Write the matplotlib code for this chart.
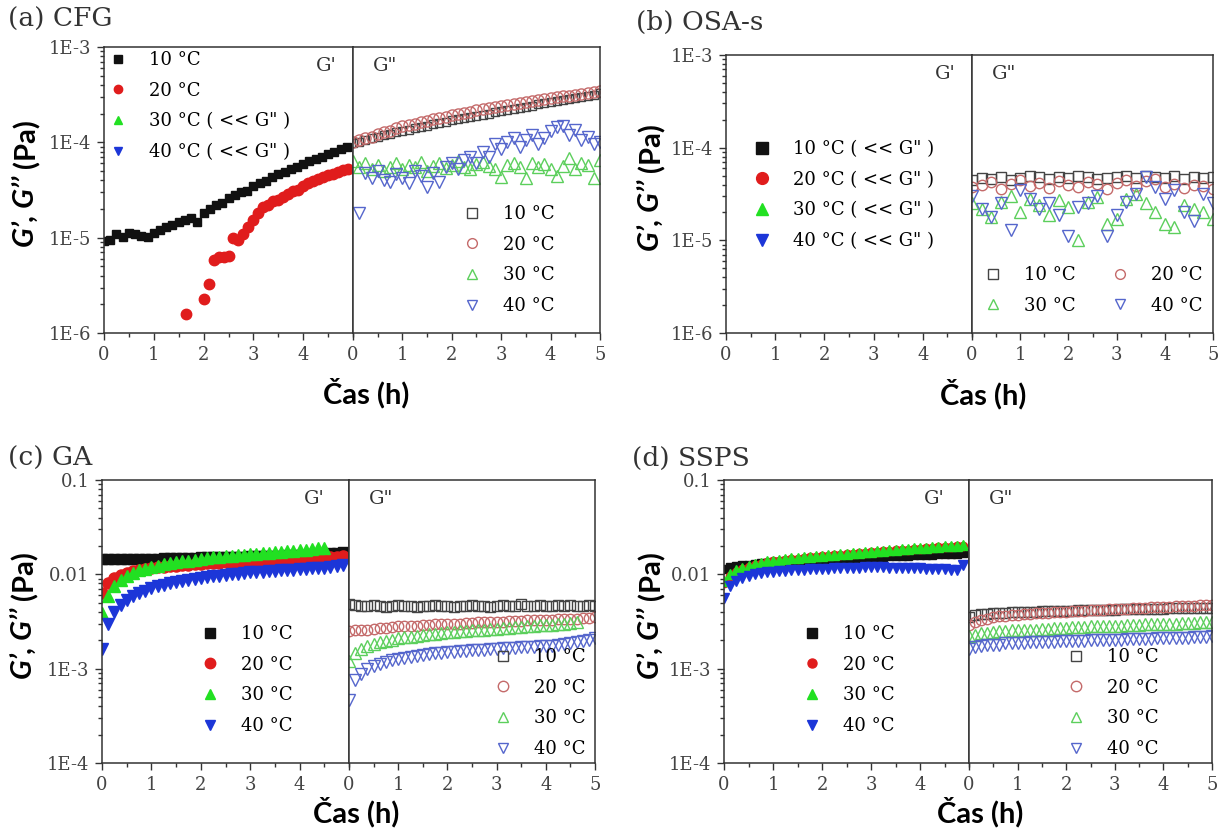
import matplotlib
matplotlib.use('Agg')
import matplotlib.pyplot as plt
from matplotlib.lines import Line2D
from matplotlib.ticker import FixedLocator, MultipleLocator, NullFormatter, LogLocator

W, H = 1226, 830

# time grids (h)
T41 = [0.0, 0.125, 0.25, 0.375, 0.5, 0.625, 0.75, 0.875, 1.0, 1.125, 1.25, 1.375, 1.5, 1.625,
       1.75, 1.875, 2.0, 2.125, 2.25, 2.375, 2.5, 2.625, 2.75, 2.875, 3.0, 3.125, 3.25, 3.375,
       3.5, 3.625, 3.75, 3.875, 4.0, 4.125, 4.25, 4.375, 4.5, 4.625, 4.75, 4.875, 5.0]
T26 = [0.0, 0.2, 0.4, 0.6, 0.8, 1.0, 1.2, 1.4, 1.6, 1.8, 2.0, 2.2, 2.4, 2.6, 2.8, 3.0, 3.2,
       3.4, 3.6, 3.8, 4.0, 4.2, 4.4, 4.6, 4.8, 5.0]
T_CFG20 = [1.65, 2.0, 2.1, 2.2, 2.3, 2.4, 2.5, 2.6, 2.7, 2.8, 2.9, 3.0, 3.1, 3.2, 3.3, 3.4, 3.5,
           3.6, 3.7, 3.8, 3.9, 4.0, 4.1, 4.2, 4.3, 4.4, 4.5, 4.6, 4.7, 4.8, 4.9]

# (a) CFG, values in 1e-5 Pa
cfg_g1_10 = [0.93, 0.95, 1.08, 1.02, 1.12, 1.1, 1.05, 1.02, 1.12, 1.2, 1.3, 1.35, 1.45, 1.55, 1.6,
             1.45, 1.8, 2.0, 2.2, 2.3, 2.6, 2.8, 3.0, 3.1, 3.5, 3.7, 3.9, 4.3, 4.6, 4.9, 5.2, 5.5,
             5.9, 6.3, 6.7, 7.1, 7.6, 8.0, 8.5, 9.0]
cfg_g1_20 = [0.16, 0.23, 0.33, 0.58, 0.62, 0.62, 0.65, 1.0, 0.95, 1.1, 1.3, 1.55, 1.8, 2.1, 2.2,
             2.4, 2.5, 2.7, 2.9, 3.1, 3.2, 3.5, 3.7, 3.9, 4.1, 4.3, 4.5, 4.7, 4.9, 5.1, 5.3]
cfg_g2_10 = [9.8, 10.2, 10.6, 11.0, 11.4, 11.8, 12.2, 12.7, 13.2, 13.6, 14.1, 14.6, 15.0, 15.5,
             16.0, 16.5, 17.0, 17.5, 18.0, 18.5, 19.0, 19.5, 20.0, 20.6, 21.2, 21.8, 22.4, 23.0,
             23.6, 24.3, 25.0, 25.6, 26.3, 27.0, 27.7, 28.5, 29.3, 30.0, 30.8, 31.7, 32.7]
cfg_g2_20 = [10.0, 10.5, 11.0, 11.5, 12.1, 12.7, 13.3, 14.0, 14.7, 15.2, 15.7, 16.2, 16.8, 17.4,
             18.0, 18.6, 19.2, 19.8, 20.4, 21.0, 21.6, 22.2, 22.8, 23.4, 24.1, 24.7, 25.3, 25.9,
             26.5, 27.1, 27.7, 28.3, 29.0, 29.6, 30.3, 30.9, 31.6, 32.3, 33.0, 33.7, 34.5]
cfg_g2_30 = [6.3, 5.5, 6.0, 5.2, 5.8, 5.0, 5.5, 6.0, 5.3, 5.8, 5.5, 6.2, 5.0, 5.6, 6.0, 5.4, 5.8,
             6.3, 5.5, 5.2, 5.9, 6.2, 5.6, 5.3, 4.3, 5.8, 6.0, 5.5, 4.2, 6.1, 5.5, 5.9, 5.3, 4.4,
             5.6, 6.8, 5.2, 6.0, 5.8, 4.2, 6.5]
cfg_g2_40 = [1.8, 4.8, 4.2, 5.0, 4.0, 3.8, 4.6, 4.2, 3.7, 5.0, 4.4, 3.4, 4.8, 3.8, 5.5, 6.0, 5.2,
             6.5, 7.0, 6.0, 8.0, 7.0, 9.5, 8.5, 10.0, 11.0, 9.0, 10.5, 12.0, 9.5, 11.0, 13.0, 14.5,
             15.0, 12.0, 13.5, 10.5, 11.5, 9.5, 10.0]

# (b) OSA-s, G'' only, values in 1e-5 Pa
osa_g2_10 = [4.5, 4.7, 4.6, 4.8, 4.5, 4.7, 4.9, 4.8, 4.6, 4.8, 4.7, 4.9, 4.8, 4.6, 4.7, 4.8, 4.9,
             4.7, 5.0, 4.8, 4.7, 4.9, 4.6, 4.8, 4.7, 4.8]
osa_g2_20 = [3.8, 4.0, 4.3, 3.6, 4.1, 4.5, 3.9, 4.2, 3.7, 4.4, 4.0, 3.8, 4.3, 4.1, 3.6, 4.2, 4.5,
             3.9, 4.4, 4.6, 3.8, 4.1, 3.7, 4.0, 3.9, 3.6]
osa_g2_30 = [2.5, 2.2, 1.8, 2.6, 3.0, 2.0, 2.8, 2.4, 1.9, 2.7, 2.3, 1.0, 2.6, 2.9, 1.5, 1.7, 2.8,
             3.2, 2.5, 2.0, 1.5, 1.4, 2.4, 2.2, 2.0, 1.7]
osa_g2_40 = [3.0, 2.2, 1.8, 2.5, 1.3, 3.5, 2.8, 2.2, 2.5, 1.9, 1.1, 2.3, 2.5, 3.0, 1.1, 1.9, 2.6,
             3.2, 4.8, 3.8, 2.8, 3.5, 2.0, 1.6, 3.2, 2.5]

# (c) GA, G' in 1e-2 Pa, G'' in 1e-3 Pa
ga_g1_10 = [1.45, 1.45, 1.45, 1.45, 1.45, 1.46, 1.46, 1.46, 1.47, 1.47, 1.48, 1.48, 1.49, 1.49,
            1.50, 1.50, 1.51, 1.51, 1.52, 1.52, 1.53, 1.53, 1.54, 1.54, 1.55, 1.55, 1.56, 1.57,
            1.57, 1.58, 1.59, 1.60, 1.61, 1.62, 1.63, 1.64, 1.65, 1.67, 1.69, 1.72]
ga_g1_20 = [0.64, 0.81, 0.92, 0.99, 1.04, 1.08, 1.11, 1.14, 1.17, 1.19, 1.21, 1.23, 1.24, 1.26,
            1.27, 1.28, 1.30, 1.31, 1.32, 1.33, 1.34, 1.35, 1.36, 1.37, 1.38, 1.39, 1.40, 1.41,
            1.42, 1.43, 1.44, 1.45, 1.46, 1.47, 1.48, 1.49, 1.50, 1.52, 1.54, 1.56]
ga_g1_30 = [0.39, 0.59, 0.75, 0.87, 0.97, 1.04, 1.10, 1.15, 1.20, 1.24, 1.28, 1.31, 1.34, 1.37,
            1.40, 1.43, 1.46, 1.48, 1.51, 1.53, 1.55, 1.58, 1.60, 1.62, 1.64, 1.66, 1.68, 1.70,
            1.72, 1.74, 1.76, 1.78, 1.80, 1.82, 1.85, 1.88, 1.92]
ga_g1_40 = [0.16, 0.30, 0.40, 0.47, 0.53, 0.59, 0.63, 0.67, 0.71, 0.75, 0.78, 0.81, 0.83, 0.86,
            0.88, 0.90, 0.92, 0.94, 0.96, 0.97, 0.99, 1.00, 1.02, 1.03, 1.05, 1.06, 1.07, 1.08,
            1.09, 1.10, 1.11, 1.12, 1.13, 1.14, 1.16, 1.17, 1.18, 1.20, 1.22, 1.25]
ga_g2_10 = [4.9, 4.7, 4.6, 4.6, 4.7, 4.6, 4.5, 4.6, 4.7, 4.6, 4.6, 4.5, 4.6, 4.6, 4.7, 4.6, 4.6,
            4.5, 4.6, 4.6, 4.7, 4.6, 4.6, 4.5, 4.6, 4.7, 4.6, 4.6, 4.8, 4.6, 4.6, 4.7, 4.6, 4.6,
            4.7, 4.6, 4.7, 4.6, 4.6, 4.7, 4.6]
ga_g2_20 = [2.5, 2.55, 2.6, 2.6, 2.65, 2.7, 2.7, 2.75, 2.8, 2.8, 2.85, 2.85, 2.9, 2.9, 2.95, 2.95,
            3.0, 3.0, 3.0, 3.05, 3.05, 3.1, 3.1, 3.1, 3.15, 3.15, 3.2, 3.2, 3.2, 3.25, 3.25, 3.3,
            3.3, 3.3, 3.35, 3.35, 3.4, 3.4, 3.45, 3.45, 3.5]
ga_g2_30 = [1.2, 1.45, 1.6, 1.72, 1.82, 1.9, 1.97, 2.03, 2.09, 2.14, 2.19, 2.23, 2.27, 2.31, 2.35,
            2.38, 2.42, 2.45, 2.48, 2.51, 2.54, 2.57, 2.6, 2.63, 2.66, 2.69, 2.72, 2.75, 2.78,
            2.81, 2.84, 2.87, 2.9, 2.93, 2.96, 3.0, 3.05, 3.1]
ga_g2_40 = [0.46, 0.75, 0.88, 0.98, 1.06, 1.12, 1.18, 1.23, 1.27, 1.31, 1.34, 1.37, 1.40, 1.43,
            1.45, 1.47, 1.49, 1.51, 1.53, 1.55, 1.56, 1.58, 1.59, 1.61, 1.62, 1.64, 1.65, 1.66,
            1.68, 1.69, 1.70, 1.72, 1.74, 1.76, 1.79, 1.83, 1.87, 1.92, 1.97, 2.03, 2.10]

# (d) SSPS, G' in 1e-2 Pa, G'' in 1e-3 Pa
ss_g1_10 = [1.15, 1.20, 1.23, 1.25, 1.27, 1.29, 1.31, 1.32, 1.34, 1.35, 1.37, 1.38, 1.39, 1.40,
            1.42, 1.43, 1.44, 1.45, 1.46, 1.47, 1.48, 1.49, 1.50, 1.51, 1.52, 1.53, 1.54, 1.55,
            1.56, 1.57, 1.58, 1.59, 1.60, 1.61, 1.62, 1.63, 1.64, 1.65, 1.66, 1.67]
ss_g1_20 = [0.80, 0.96, 1.07, 1.15, 1.21, 1.26, 1.30, 1.34, 1.37, 1.40, 1.43, 1.45, 1.47, 1.49,
            1.51, 1.53, 1.55, 1.57, 1.59, 1.61, 1.63, 1.65, 1.67, 1.69, 1.71, 1.73, 1.75, 1.77,
            1.79, 1.81, 1.83, 1.85, 1.87, 1.89, 1.91, 1.93, 1.95, 1.97, 1.99, 2.01]
ss_g1_30 = [0.85, 1.00, 1.10, 1.18, 1.24, 1.29, 1.33, 1.37, 1.40, 1.43, 1.46, 1.48, 1.50, 1.52,
            1.54, 1.56, 1.58, 1.60, 1.62, 1.64, 1.66, 1.68, 1.70, 1.72, 1.74, 1.76, 1.78, 1.80,
            1.82, 1.84, 1.86, 1.88, 1.90, 1.92, 1.94, 1.96, 1.98, 2.00, 2.02, 2.04]
ss_g1_40 = [0.56, 0.75, 0.85, 0.92, 0.97, 1.00, 1.03, 1.05, 1.06, 1.08, 1.09, 1.10, 1.11, 1.12,
            1.13, 1.14, 1.15, 1.15, 1.16, 1.17, 1.17, 1.18, 1.18, 1.19, 1.19, 1.19, 1.19, 1.18,
            1.18, 1.17, 1.17, 1.16, 1.16, 1.15, 1.15, 1.14, 1.13, 1.12, 1.12, 1.25]
ss_g2_10 = [3.5, 3.7, 3.8, 3.8, 3.9, 3.9, 3.9, 4.0, 4.0, 4.0, 4.0, 4.0, 4.1, 4.1, 4.1, 4.1, 4.1,
            4.1, 4.2, 4.2, 4.2, 4.2, 4.2, 4.2, 4.2, 4.3, 4.3, 4.3, 4.3, 4.3, 4.3, 4.3, 4.3, 4.4,
            4.4, 4.4, 4.4, 4.4, 4.4, 4.4, 4.4]
ss_g2_20 = [2.9, 3.1, 3.3, 3.4, 3.5, 3.6, 3.6, 3.7, 3.7, 3.8, 3.8, 3.9, 3.9, 3.9, 4.0, 4.0, 4.0,
            4.1, 4.1, 4.1, 4.2, 4.2, 4.2, 4.3, 4.3, 4.3, 4.3, 4.4, 4.4, 4.4, 4.5, 4.5, 4.5, 4.5,
            4.6, 4.6, 4.6, 4.6, 4.7, 4.7, 4.7]
ss_g2_30 = [2.2, 2.3, 2.4, 2.4, 2.45, 2.5, 2.5, 2.55, 2.55, 2.6, 2.6, 2.6, 2.65, 2.65, 2.7, 2.7,
            2.7, 2.75, 2.75, 2.75, 2.8, 2.8, 2.8, 2.85, 2.85, 2.85, 2.9, 2.9, 2.9, 2.95, 2.95,
            2.95, 3.0, 3.0, 3.0, 3.05, 3.05, 3.05, 3.1, 3.1, 3.1]
ss_g2_40 = [1.6, 1.7, 1.75, 1.8, 1.8, 1.8, 1.85, 1.85, 1.85, 1.85, 1.9, 1.9, 1.9, 1.9, 1.9, 1.95,
            1.95, 1.95, 1.95, 1.95, 2.0, 2.0, 2.0, 2.0, 2.0, 2.0, 2.05, 2.05, 2.05, 2.05, 2.05,
            2.1, 2.1, 2.1, 2.1, 2.1, 2.1, 2.15, 2.15, 2.15, 2.2]

TEMPS = ['10 °C', '20 °C', '30 °C', '40 °C']

# colours / markers for the four temperatures
FILL = ['#111111', '#e01c1c', '#22e022', '#1c36d8']
OPEN = ['#444444', '#c46a6a', '#5ccf5c', '#5566cc']
MK = ['s', 'o', '^', 'v']

SERIF = 'DejaVu Serif'
SANS = ['Lato', 'DejaVu Sans']
TICKC = '#444444'

fig = plt.figure(figsize=(W / 100, H / 100), dpi=100)


def px_axes(l, r, t, b):
    return fig.add_axes([l / W, 1 - b / H, (r - l) / W, (b - t) / H])


def style(ax, ylim, yticks, ylabels, left):
    ax.set_yscale('log')
    ax.set_ylim(*ylim)
    ax.set_xlim(0, 5)
    ax.xaxis.set_major_locator(FixedLocator([0, 1, 2, 3, 4] if left else [0, 1, 2, 3, 4, 5]))
    ax.xaxis.set_minor_locator(MultipleLocator(0.5))
    ax.tick_params(which='both', direction='out', color='#333333', width=1,
                   labelcolor=TICKC, labelsize=13, pad=4)
    ax.tick_params(which='major', length=5)
    ax.tick_params(which='minor', length=3)
    for lab in ax.get_xticklabels():
        lab.set_fontfamily(SERIF)
    if left:
        ax.yaxis.set_major_locator(FixedLocator(yticks))
        ax.yaxis.set_minor_locator(LogLocator(base=10, subs=range(2, 10)))
        ax.yaxis.set_minor_formatter(NullFormatter())
        ax.set_yticklabels(ylabels, fontfamily=SERIF)
    else:
        ax.yaxis.set_minor_locator(LogLocator(base=10, subs=range(2, 10)))
        ax.tick_params(axis='y', which='both', left=False, labelleft=False)
    for s in ax.spines.values():
        s.set_color('#333333')
        s.set_linewidth(1.1)


def leg(ax, handles, labels, mx, my, ncol=1, colsp=2.0):
    ax.legend(handles, labels, loc='upper left',
              bbox_to_anchor=((mx - 9) / W, 1 - (my - 12) / H), bbox_transform=fig.transFigure,
              frameon=False, borderpad=0, borderaxespad=0, handlelength=1.0,
              handletextpad=1.2, labelspacing=0.7, ncol=ncol, columnspacing=colsp,
              prop={'family': SERIF, 'size': 13})


def handle(i, filled, ms):
    if filled:
        return Line2D([], [], ls='none', marker=MK[i], ms=ms, color=FILL[i])
    return Line2D([], [], ls='none', marker=MK[i], ms=ms, mfc='none', mec=OPEN[i], mew=1.0)


def labels_panel(title, tx, ty, mid, top, bottom, ylab_x, xlab_x, xlab_y, gdx=27):
    fig.text(tx / W, 1 - ty / H, title, fontfamily=SERIF, fontsize=19, ha='left', va='center',
             color='#333333')
    fig.text((mid - gdx) / W, 1 - (top + 19) / H, "G'", fontfamily=SERIF, fontsize=14,
             ha='center', va='center', color='#333333')
    fig.text((mid + 32) / W, 1 - (top + 19) / H, 'G"', fontfamily=SERIF, fontsize=14,
             ha='center', va='center', color='#333333')
    junction = (top + bottom) / 2 - 18
    fig.text(ylab_x / W, 1 - (junction + 4) / H, 'G\u2019, G\u2019\u2019', rotation=90,
             fontfamily=SANS, fontsize=21, fontweight='bold', fontstyle='italic',
             ha='center', va='top')
    fig.text(ylab_x / W, 1 - (junction - 4) / H, '(Pa)', rotation=90, fontfamily=SANS,
             fontsize=21, fontweight='bold', ha='center', va='bottom')
    fig.text(xlab_x / W, 1 - xlab_y / H, 'Čas (h)', fontfamily=SANS, fontsize=21,
             fontweight='bold', ha='center', va='center')


# ---------------- (a) CFG ----------------
a1 = px_axes(104, 353, 47, 333)
a2 = px_axes(353, 600, 47, 333)
E5 = 1e-5
a1.plot(T41[:40], [v * E5 for v in cfg_g1_10], ls='none', marker='s', ms=6, color=FILL[0])
a1.plot(T_CFG20, [v * E5 for v in cfg_g1_20], ls='none', marker='o', ms=7.5, color=FILL[1])
a2.plot(T41, [v * E5 for v in cfg_g2_10], ls='none', marker='s', ms=6, mfc='none', mec=OPEN[0])
a2.plot(T41, [v * E5 for v in cfg_g2_20], ls='none', marker='o', ms=8, mfc='none', mec=OPEN[1])
a2.plot(T41, [v * E5 for v in cfg_g2_30], ls='none', marker='^', ms=8.5, mfc='none', mec=OPEN[2])
a2.plot(T41[1:], [v * E5 for v in cfg_g2_40], ls='none', marker='v', ms=8.5, mfc='none', mec=OPEN[3])
style(a1, (1e-6, 1e-3), [1e-6, 1e-5, 1e-4, 1e-3], ['1E-6', '1E-5', '1E-4', '1E-3'], True)
style(a2, (1e-6, 1e-3), None, None, False)
leg(a1, [handle(i, True, 6) for i in range(4)],
    ['10 °C', '20 °C', '30 °C ( << G" )', '40 °C ( << G" )'], 118, 63)
leg(a2, [handle(i, False, 7) for i in range(4)], TEMPS, 472, 217)
labels_panel('(a) CFG', 8, 19, 353, 47, 333, 27, 366, 393)

# ---------------- (b) OSA-s ----------------
b1 = px_axes(726, 972, 55, 333)
b2 = px_axes(972, 1213, 55, 333)
b2.plot(T26, [v * E5 for v in osa_g2_10], ls='none', marker='s', ms=6.5, mfc='none', mec=OPEN[0])
b2.plot(T26, [v * E5 for v in osa_g2_20], ls='none', marker='o', ms=7.5, mfc='none', mec=OPEN[1])
b2.plot(T26, [v * E5 for v in osa_g2_30], ls='none', marker='^', ms=8.5, mfc='none', mec=OPEN[2])
b2.plot(T26, [v * E5 for v in osa_g2_40], ls='none', marker='v', ms=8.5, mfc='none', mec=OPEN[3])
style(b1, (1e-6, 1e-3), [1e-6, 1e-5, 1e-4, 1e-3], ['1E-6', '1E-5', '1E-4', '1E-3'], True)
style(b2, (1e-6, 1e-3), None, None, False)
leg(b1, [handle(i, True, 8.5) for i in range(4)],
    ['10 °C ( << G" )', '20 °C ( << G" )', '30 °C ( << G" )', '40 °C ( << G" )'], 762, 152)
leg(b2, [handle(i, False, 7) for i in [0, 2, 1, 3]], [TEMPS[0], TEMPS[2], TEMPS[1], TEMPS[3]],
    993, 278, ncol=2, colsp=2.0)
labels_panel('(b) OSA-s', 636, 22, 972, 55, 333, 652, 983, 394)

# ---------------- (c) GA ----------------
c1 = px_axes(102, 349, 480, 763)
c2 = px_axes(349, 595, 480, 763)
E2, E3 = 1e-2, 1e-3
c1.plot(T41[:40], [v * E2 for v in ga_g1_10], ls='none', marker='s', ms=7, color=FILL[0])
c1.plot(T41[:40], [v * E2 for v in ga_g1_20], ls='none', marker='o', ms=8, color=FILL[1])
c1.plot(T41[:37], [v * E2 for v in ga_g1_30], ls='none', marker='^', ms=9, color=FILL[2])
c1.plot(T41[:40], [v * E2 for v in ga_g1_40], ls='none', marker='v', ms=9, color=FILL[3])
c2.plot(T41, [v * E3 for v in ga_g2_10], ls='none', marker='s', ms=6.5, mfc='none', mec=OPEN[0])
c2.plot(T41, [v * E3 for v in ga_g2_20], ls='none', marker='o', ms=7.5, mfc='none', mec=OPEN[1])
c2.plot(T41[:38], [v * E3 for v in ga_g2_30], ls='none', marker='^', ms=8.5, mfc='none', mec=OPEN[2])
c2.plot(T41, [v * E3 for v in ga_g2_40], ls='none', marker='v', ms=8.5, mfc='none', mec=OPEN[3])
style(c1, (1e-4, 0.1), [1e-4, 1e-3, 1e-2, 1e-1], ['1E-4', '1E-3', '0.01', '0.1'], True)
style(c2, (1e-4, 0.1), None, None, False)
leg(c1, [handle(i, True, 7.5) for i in range(4)], TEMPS, 210, 637)
leg(c2, [handle(i, False, 7.5) for i in range(4)], TEMPS, 503, 660)
labels_panel('(c) GA', 8, 458, 349, 480, 763, 25, 356, 812, gdx=35)

# ---------------- (d) SSPS ----------------
d1 = px_axes(724, 969, 480, 763)
d2 = px_axes(969, 1212, 480, 763)
d1.plot(T41[:40], [v * E2 for v in ss_g1_10], ls='none', marker='s', ms=6, color=FILL[0])
d1.plot(T41[:40], [v * E2 for v in ss_g1_20], ls='none', marker='o', ms=6, color=FILL[1])
d1.plot(T41[:40], [v * E2 for v in ss_g1_30], ls='none', marker='^', ms=7, color=FILL[2])
d1.plot(T41[:40], [v * E2 for v in ss_g1_40], ls='none', marker='v', ms=7, color=FILL[3])
d2.plot(T41, [v * E3 for v in ss_g2_10], ls='none', marker='s', ms=6.5, mfc='none', mec=OPEN[0])
d2.plot(T41, [v * E3 for v in ss_g2_20], ls='none', marker='o', ms=7.5, mfc='none', mec=OPEN[1])
d2.plot(T41, [v * E3 for v in ss_g2_30], ls='none', marker='^', ms=8, mfc='none', mec=OPEN[2])
d2.plot(T41, [v * E3 for v in ss_g2_40], ls='none', marker='v', ms=8, mfc='none', mec=OPEN[3])
style(d1, (1e-4, 0.1), [1e-4, 1e-3, 1e-2, 1e-1], ['1E-4', '1E-3', '0.01', '0.1'], True)
style(d2, (1e-4, 0.1), None, None, False)
leg(d1, [handle(i, True, 6.5) for i in range(4)], TEMPS, 812, 637)
leg(d2, [handle(i, False, 7.5) for i in range(4)], TEMPS, 1076, 660)
labels_panel('(d) SSPS', 632, 458, 969, 480, 763, 652, 980, 812, gdx=35)

fig.savefig('out.png', dpi=100)
